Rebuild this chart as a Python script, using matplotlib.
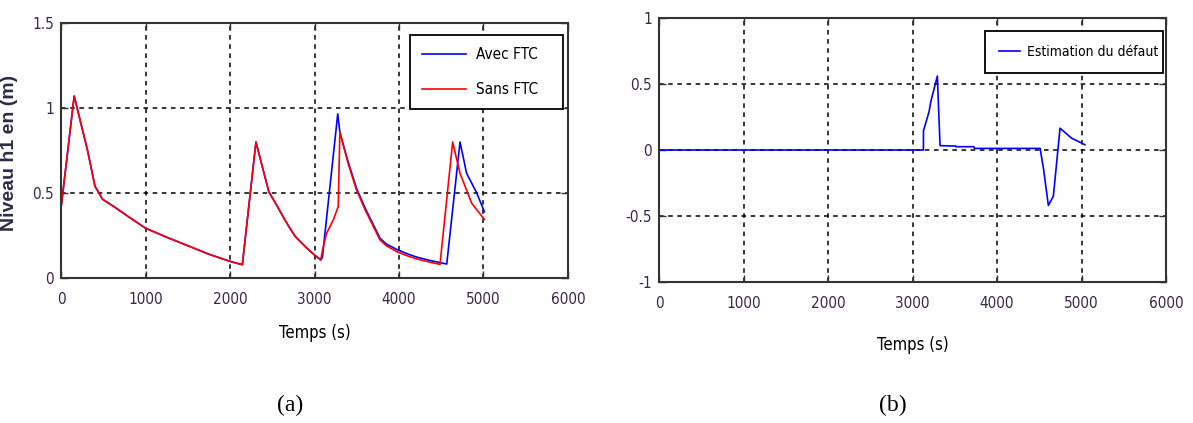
import matplotlib
matplotlib.use("Agg")
import matplotlib.pyplot as plt
from matplotlib import font_manager

# ---------------- data ----------------
t_sans = [0, 156, 246, 313, 402, 492, 626, 800, 1000, 1250, 1520, 1750, 2000, 2146,
          2307, 2459, 2550, 2638, 2700, 2772, 2900, 2996, 3073,
          3104, 3143, 3222, 3281, 3300, 3400, 3497, 3600, 3700, 3775, 3850, 3972, 4100, 4203, 4350, 4485,
          4635, 4722, 4860, 5010]
h_sans = [0.41, 1.07, 0.888, 0.753, 0.54, 0.463, 0.42, 0.36, 0.293, 0.24, 0.186, 0.14, 0.098, 0.078,
          0.80, 0.508, 0.43, 0.352, 0.30, 0.244, 0.18, 0.137, 0.106,
          0.184, 0.263, 0.341, 0.42, 0.86, 0.67, 0.518, 0.40, 0.30, 0.224, 0.19, 0.155, 0.130, 0.113, 0.095, 0.080,
          0.80, 0.616, 0.44, 0.345]

t_avec = [0, 156, 246, 313, 402, 492, 626, 800, 1000, 1250, 1520, 1750, 2000, 2146,
          2307, 2459, 2550, 2638, 2700, 2772, 2900, 2996, 3073,
          3093, 3275, 3302, 3400, 3497, 3600, 3700, 3775, 3850, 3972, 4100, 4203, 4350, 4565,
          4722, 4800, 4920, 5010]
h_avec = [0.41, 1.07, 0.888, 0.753, 0.54, 0.463, 0.42, 0.36, 0.293, 0.24, 0.186, 0.14, 0.098, 0.078,
          0.80, 0.508, 0.43, 0.352, 0.30, 0.244, 0.18, 0.137, 0.106,
          0.12, 0.965, 0.851, 0.68, 0.528, 0.41, 0.31, 0.234, 0.20, 0.168, 0.142, 0.124, 0.105, 0.082,
          0.80, 0.616, 0.50, 0.39]

t_def = [0, 3129, 3130, 3196, 3216, 3294, 3326, 3510, 3512, 3726, 3733, 4510, 4549, 4608,
         4667, 4746, 4882, 5040]
f_def = [0.0, 0.0, 0.147, 0.29, 0.365, 0.56, 0.033, 0.03, 0.025, 0.025, 0.012, 0.012, -0.136, -0.42,
         -0.35, 0.165, 0.09, 0.04]

x_ticks = [0, 1000, 2000, 3000, 4000, 5000, 6000]
y_ticks_a = [0, 0.5, 1, 1.5]
y_ticks_b = [-1, -0.5, 0, 0.5, 1]
y_tick_labels_a = ["0", "0.5", "1", "1.5"]
y_tick_labels_b = ["-1", "-0.5", "0", "0.5", "1"]

# ---------------- fonts ----------------
def find_narrow():
    for f in font_manager.fontManager.ttflist:
        st = f.stretch
        is_cond = ("Narrow" in f.name or "Condensed" in f.name or
                   (isinstance(st, str) and "condensed" in st) or
                   (isinstance(st, int) and st < 500))
        if is_cond and f.weight in (400, "normal", "regular") and f.style == "normal":
            return font_manager.FontProperties(fname=f.fname), True
    return font_manager.FontProperties(family="Liberation Sans"), False

narrow_fp, is_narrow = find_narrow()

def fp(size):
    p = narrow_fp.copy()
    p.set_size(size)
    return p

W, H = 1193, 423
fig = plt.figure(figsize=(W / 100, H / 100), dpi=100)
fig.patch.set_facecolor("white")

tick_color = "#3a2448"
spine_color = "#333333"
tick_size = 11

def setup(ax, yticks, ylabels, ylim):
    ax.set_xlim(0, 6000)
    ax.set_ylim(*ylim)
    ax.set_xticks(x_ticks)
    ax.set_xticklabels([str(v) for v in x_ticks], fontproperties=fp(tick_size), color=tick_color)
    ax.set_yticks(yticks)
    ax.set_yticklabels(ylabels, fontproperties=fp(tick_size), color=tick_color)
    ax.tick_params(direction="in", length=5, width=1, colors=spine_color, labelcolor=tick_color,
                   top=True, right=True)
    ax.tick_params(axis="x", pad=10)
    ax.tick_params(axis="y", pad=5)
    ax.grid(True, color="black", linestyle=(0, (3, 3)), linewidth=1.1)
    for s in ax.spines.values():
        s.set_color(spine_color)
        s.set_linewidth(1.5)

def px_rect(l, t, r, b):
    return [l / W, 1 - b / H, (r - l) / W, (b - t) / H]

# ---------------- (a) ----------------
ax1 = fig.add_axes(px_rect(61, 23, 568, 278))
setup(ax1, y_ticks_a, y_tick_labels_a, (0, 1.5))
ax1.plot(t_avec, h_avec, color="#0000ff", lw=1.2, label="Avec FTC")
ax1.plot(t_sans, h_sans, color="#ff0000", lw=1.2, label="Sans FTC")
leg1 = ax1.legend(loc="upper left", bbox_to_anchor=(0.688, 0.0, 0.302, 0.953), mode="expand",
                  borderaxespad=0, fancybox=False, edgecolor="black", framealpha=1, prop=fp(11),
                  handlelength=2.9, borderpad=0.8, labelspacing=1.3, handletextpad=0.65)
leg1.get_frame().set_linewidth(1.3)
ax1.set_xlabel("Temps (s)", fontproperties=fp(12), labelpad=12)
ax1.set_ylabel("Niveau h1 en (m)", fontfamily="Liberation Sans", fontsize=14, fontweight="bold",
               color="#2b2b45")
ax1.yaxis.set_label_coords(-0.085, 0.49)

# ---------------- (b) ----------------
ax2 = fig.add_axes(px_rect(659, 18, 1166, 282))
setup(ax2, y_ticks_b, y_tick_labels_b, (-1, 1))
ax2.plot(t_def, f_def, color="#0000ff", lw=1.2, label="Estimation du défaut")
leg2 = ax2.legend(loc="upper left", bbox_to_anchor=(0.643, 0.0, 0.351, 0.951), mode="expand",
                  borderaxespad=0, fancybox=False, edgecolor="black", framealpha=1, prop=fp(10),
                  handlelength=1.5, borderpad=1.0, handletextpad=0.5)
leg2.get_frame().set_linewidth(1.3)
ax2.set_xlabel("Temps (s)", fontproperties=fp(12), labelpad=18)

# ---------------- captions ----------------
fig.text(290 / W, 1 - 405 / H, "(a)", fontfamily="Liberation Serif", fontsize=17, ha="center", va="center")
fig.text(893 / W, 1 - 405 / H, "(b)", fontfamily="Liberation Serif", fontsize=17, ha="center", va="center")

fig.savefig("out.png", dpi=100, facecolor="white")
